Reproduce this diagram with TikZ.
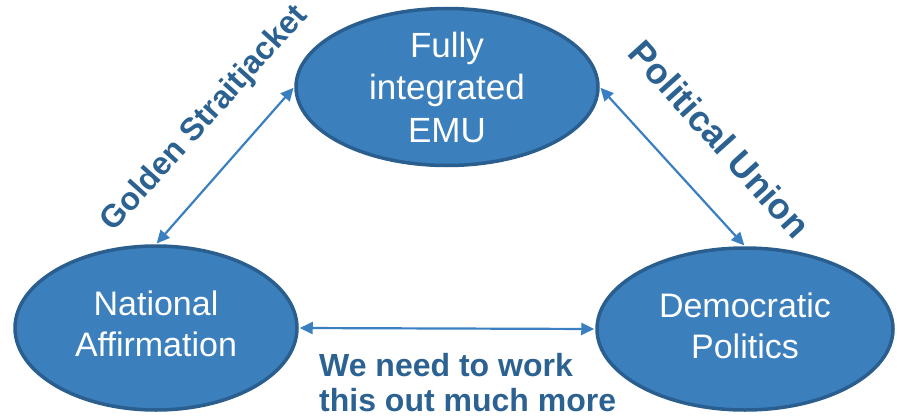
\documentclass[tikz,border=0pt]{standalone}
\usepackage{fontspec}
\setmainfont{Liberation Sans}
\usetikzlibrary{arrows.meta,shapes.geometric}
\definecolor{emufill}{HTML}{3B7FBD}
\definecolor{emuedge}{HTML}{2A5E8E}
\definecolor{labelblue}{HTML}{2C6291}
\definecolor{arrowblue}{HTML}{3A80C1}
\begin{document}
\begin{tikzpicture}[x=1pt,y=-1pt,
  goal/.style={ellipse, draw=emuedge, fill=emufill, line width=3.5pt,
    text=white, align=center, inner sep=0pt,
    font=\fontsize{34}{41}\selectfont},
  link/.style={{Triangle[length=13pt,width=12pt]}-{Triangle[length=13pt,width=12pt]},
    draw=arrowblue, line width=2.2pt, shorten <=1pt, shorten >=1pt},
  tag/.style={text=labelblue, font=\bfseries\fontsize{32}{35}\selectfont, inner sep=0pt}]
\useasboundingbox (0,0) rectangle (897,420);

% the three corners of the trilemma
\node[goal, minimum width=302pt, minimum height=157pt,
  font=\fontsize{35}{42.5}\selectfont] (emu) at (447,87)
  {Fully\\integrated\\EMU};
% a thin empty last line lifts the two-line texts slightly above centre
\node[goal, minimum width=282pt, minimum height=164pt] (nat) at (156,328)
  {National\\Affirmation\\[-33pt]\mbox{}};
\node[goal, minimum width=296pt, minimum height=162pt] (dem) at (745,329)
  {Democratic\\Politics\\[-34pt]\mbox{}};

% double-headed links between the corners
\draw[link] (nat.north) -- (emu.west);
\draw[link] (emu.east) -- (dem.north);
\draw[link] (nat.east) -- (dem.west);

% labels along the links
\node[tag, rotate=48] (gold) at (205,119) {Golden Straitjacket};
\node[tag, rotate=-48, font=\bfseries\fontsize{36}{40}\selectfont] (pol) at (720,139)
  {Political Union};
\node[tag, align=left, anchor=north west] (work) at (319,353)
  {We need to work\\this out much more};
\end{tikzpicture}
\end{document}
